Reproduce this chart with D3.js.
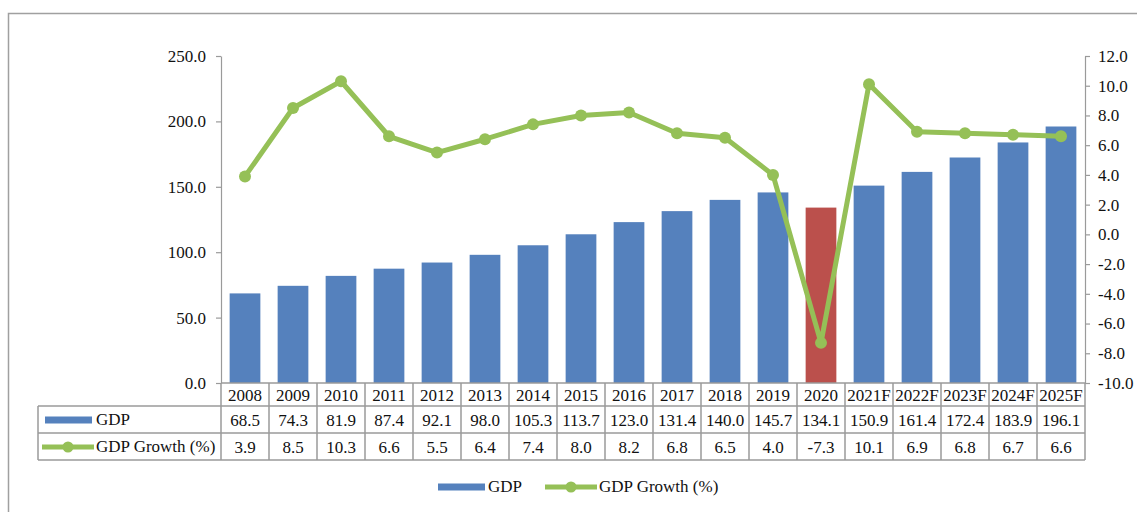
<!DOCTYPE html>
<html>
<head>
<meta charset="utf-8">
<script src="https://cdn.jsdelivr.net/npm/d3@7/dist/d3.min.js"></script>
<style>
  html, body { margin: 0; padding: 0; background: #fff; }
  svg { display: block; }
</style>
</head>
<body>
<svg id="chart" width="1137" height="512"></svg>
<script>
// GDP (bars, left axis) and GDP growth (line, right axis), 2008-2025F
const years = ["2008","2009","2010","2011","2012","2013","2014","2015","2016","2017","2018","2019","2020","2021F","2022F","2023F","2024F","2025F"];
const gdp = [68.5,74.3,81.9,87.4,92.1,98.0,105.3,113.7,123.0,131.4,140.0,145.7,134.1,150.9,161.4,172.4,183.9,196.1];
const growth = [3.9,8.5,10.3,6.6,5.5,6.4,7.4,8.0,8.2,6.8,6.5,4.0,-7.3,10.1,6.9,6.8,6.7,6.6];
const leftTicks = [0,50,100,150,200,250];
const rightTicks = [-10,-8,-6,-4,-2,0,2,4,6,8,10,12];
const highlightYear = "2020";

const BLUE = "#5581bd", RED = "#bb504c", GREEN = "#95c057", GRID = "#9a9a9a";
const FONT = '"Liberation Serif", "Times New Roman", "DejaVu Serif", serif';
const FS = "17px";

const svg = d3.select("#chart")
  .attr("font-family", FONT).attr("font-size", FS);

// outer frame
svg.append("path")
  .attr("d", "M8.5,520 L8.5,13.5 L1140,13.5")
  .attr("fill", "none").attr("stroke", "#a0a0a0").attr("stroke-width", 1.5);

const plotLeft = 221, plotRight = 1085, plotTop = 56, plotBottom = 383;

const x = d3.scaleBand().domain(years).range([plotLeft, plotRight]).paddingInner(0.36).paddingOuter(0.18);
const step = x.step();
const yL = d3.scaleLinear().domain([0, 250]).range([plotBottom, plotTop]);
const yR = d3.scaleLinear().domain([-10, 12]).range([plotBottom, plotTop]);

// bars
svg.append("g").selectAll("rect").data(years).join("rect")
  .attr("x", d => x(d))
  .attr("width", x.bandwidth())
  .attr("y", (d, i) => yL(gdp[i]))
  .attr("height", (d, i) => yL(0) - yL(gdp[i]))
  .attr("fill", d => d === highlightYear ? RED : BLUE);

// number format with a plain hyphen as minus sign
const fmt = d3.formatLocale({decimal: ".", thousands: ",", grouping: [3], currency: ["", ""], minus: "-"}).format(".1f");

// axes
const axL = svg.append("g").attr("transform", `translate(${plotLeft},0)`)
  .call(d3.axisLeft(yL).tickValues(leftTicks).tickFormat(fmt).tickSize(5).tickSizeOuter(0).tickPadding(10));
const axR = svg.append("g").attr("transform", `translate(${plotRight},0)`)
  .call(d3.axisRight(yR).tickValues(rightTicks).tickFormat(fmt).tickSize(5).tickSizeOuter(0).tickPadding(8));
[axL, axR].forEach(a => {
  a.attr("font-family", FONT).attr("font-size", FS);
  a.selectAll("path, line").attr("stroke", GRID).attr("stroke-width", 1.2);
  a.selectAll("text").attr("fill", "#111");
});

// growth line
const cx = (d, i) => x(years[i]) + x.bandwidth() / 2;
const line = d3.line().x((d, i) => cx(d, i)).y(d => yR(d));
svg.append("path").datum(growth)
  .attr("d", line).attr("fill", "none")
  .attr("stroke", GREEN).attr("stroke-width", 5).attr("stroke-linejoin", "round");
svg.append("g").selectAll("circle").data(growth).join("circle")
  .attr("cx", cx).attr("cy", d => yR(d)).attr("r", 6).attr("fill", GREEN);

// data table
const tableLeft = 38;
const rowY = [plotBottom, 406, 433, 460];
const tbl = svg.append("g").attr("stroke", GRID).attr("stroke-width", 1.5).attr("fill", "none");
[1, 2, 3].forEach(r => tbl.append("line").attr("x1", tableLeft).attr("x2", plotRight).attr("y1", rowY[r]).attr("y2", rowY[r]));
tbl.append("line").attr("x1", plotLeft).attr("x2", plotRight).attr("y1", rowY[0]).attr("y2", rowY[0]);
tbl.append("line").attr("x1", tableLeft).attr("x2", tableLeft).attr("y1", rowY[1]).attr("y2", rowY[3]);
const bounds = [plotLeft].concat(years.map(d => x(d) - step * x.paddingInner() / 2 + step));
tbl.selectAll("line.v").data(bounds).join("line").attr("class", "v")
  .attr("x1", d => d).attr("x2", d => d).attr("y1", rowY[0]).attr("y2", rowY[3]);

const cellText = (vals, r) => svg.append("g").selectAll("text").data(vals).join("text")
  .attr("x", (d, i) => cx(d, i))
  .attr("y", (rowY[r] + rowY[r + 1]) / 2 + 6)
  .attr("text-anchor", "middle")
  .attr("fill", "#111")
  .text(d => d);
cellText(years, 0);
cellText(gdp.map(fmt), 1);
cellText(growth.map(fmt), 2);

// series keys (table rows and legend)
function keyBar(g, x0, y0) {
  g.append("rect").attr("x", x0).attr("y", y0 - 3.5).attr("width", 47).attr("height", 7).attr("fill", BLUE);
}
function keyLine(g, x0, y0) {
  g.append("line").attr("x1", x0).attr("x2", x0 + 52).attr("y1", y0).attr("y2", y0)
    .attr("stroke", GREEN).attr("stroke-width", 5);
  g.append("circle").attr("cx", x0 + 26).attr("cy", y0).attr("r", 5.5).attr("fill", GREEN);
}
const keys = svg.append("g").attr("fill", "#111");
keyBar(keys, 45, 420);
keys.append("text").attr("x", 96).attr("y", 425).text("GDP");
keyLine(keys, 42, 447);
keys.append("text").attr("x", 96).attr("y", 452).text("GDP Growth (%)");

const legend = svg.append("g").attr("fill", "#111");
keyBar(legend, 438, 487);
legend.append("text").attr("x", 488).attr("y", 492).text("GDP");
keyLine(legend, 545, 487);
legend.append("text").attr("x", 599).attr("y", 492).text("GDP Growth (%)");
</script>
</body>
</html>
